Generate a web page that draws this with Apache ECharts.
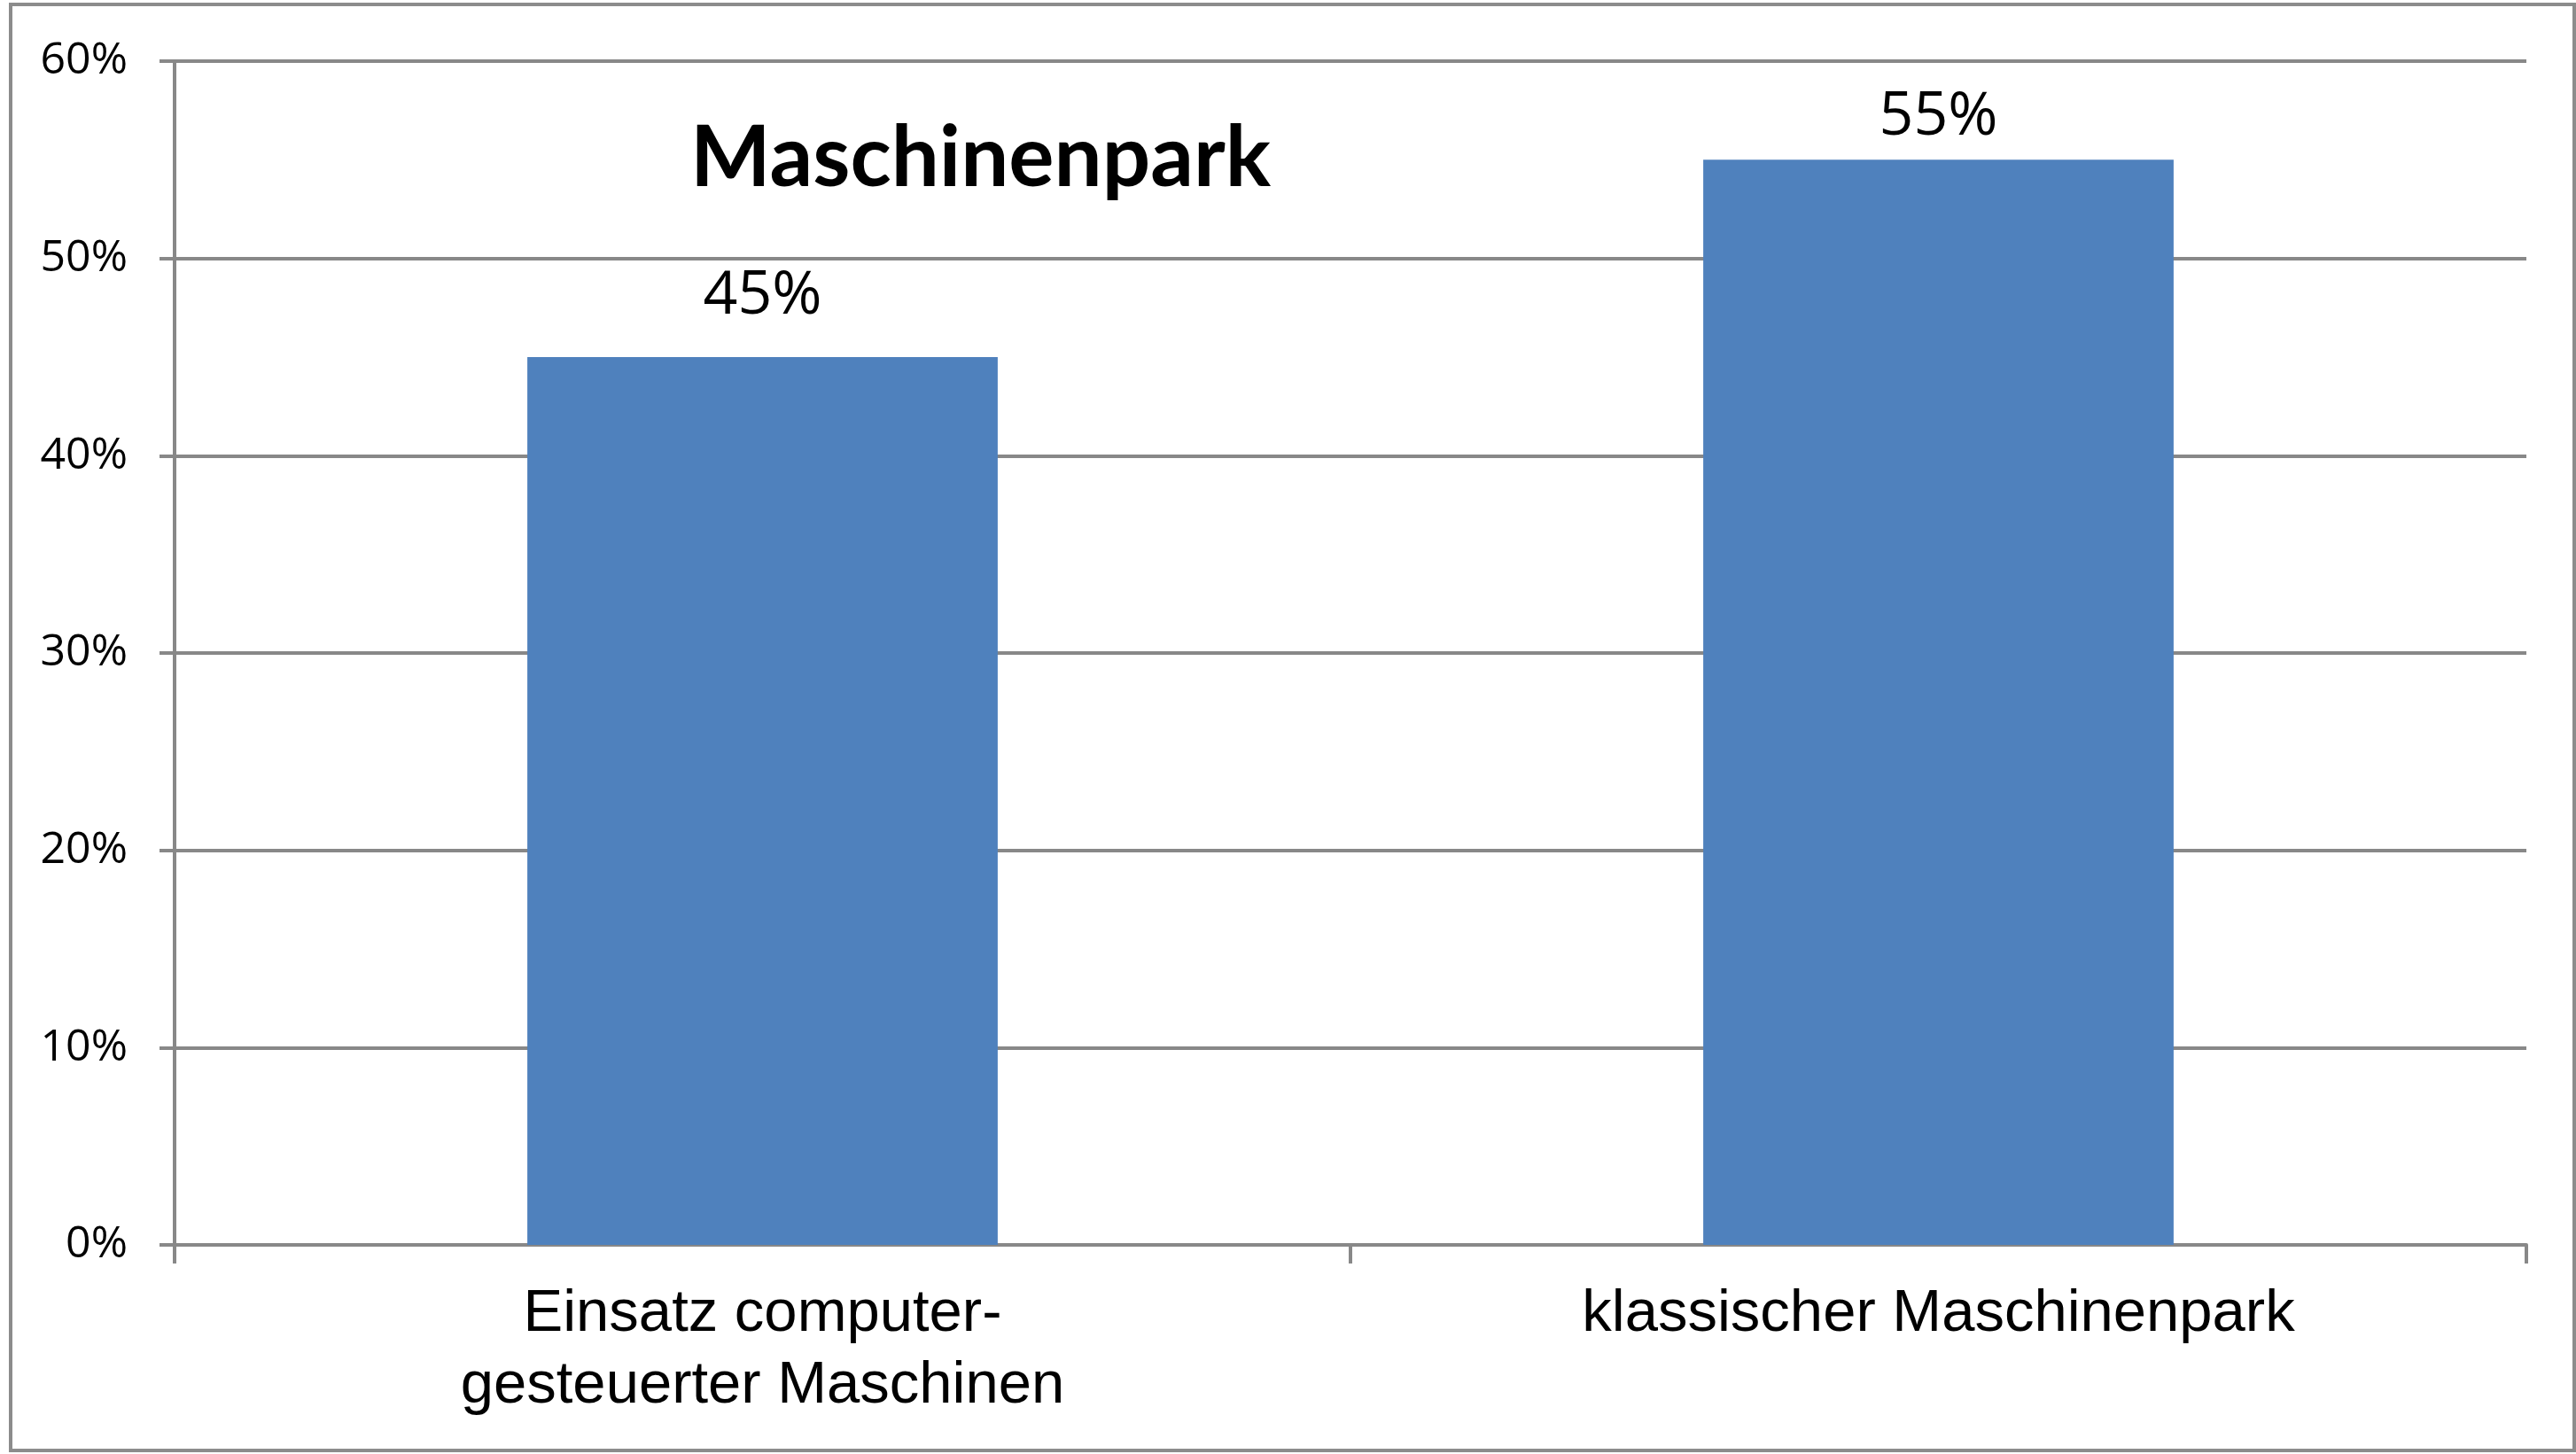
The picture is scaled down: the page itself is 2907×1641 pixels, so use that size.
<!DOCTYPE html>
<html>
<head>
<meta charset="utf-8">
<title>Maschinenpark</title>
<script src="https://cdn.jsdelivr.net/npm/echarts@6/dist/echarts.min.js"></script>
<style>
html, body { margin: 0; padding: 0; background: #fff; }
#chart { width: 2907px; height: 1641px; }
</style>
</head>
<body>
<div id="chart"></div>
<script>
// data
var categories = ['Einsatz computer-\ngesteuerter Maschinen', 'klassischer Maschinenpark'];
var shares = [0.45, 0.55];
var yTicks = [0, 0.1, 0.2, 0.3, 0.4, 0.5, 0.6];

var labelGap = [34, 14]; // Abstand der Beschriftung über dem Balken

var chart = echarts.init(document.getElementById('chart'));

var option = {
  backgroundColor: '#ffffff',
  animation: false,
  title: {
    text: 'Maschinenpark',
    left: 779,
    top: 131,
    padding: 0,
    textStyle: {
      fontFamily: 'Lato',
      fontWeight: 'bold',
      fontSize: 96,
      color: '#000'
    }
  },
  grid: {
    left: 197,
    right: 56,
    top: 69,
    bottom: 236,
    containLabel: false
  },
  xAxis: {
    type: 'category',
    data: categories,
    axisLine: { lineStyle: { color: '#888888', width: 4 } },
    axisTick: { show: true, length: 21, lineStyle: { color: '#888888', width: 4 } },
    axisLabel: {
      margin: 38,
      interval: 0,
      fontFamily: 'Liberation Sans',
      fontSize: 67,
      lineHeight: 81,
      color: '#000'
    }
  },
  yAxis: {
    type: 'value',
    min: yTicks[0],
    max: yTicks[yTicks.length - 1],
    interval: 0.1,
    axisLine: { show: true, lineStyle: { color: '#888888', width: 4 } },
    axisTick: { show: true, length: 17, lineStyle: { color: '#888888', width: 4 } },
    splitLine: { show: true, lineStyle: { color: '#888888', width: 4 } },
    axisLabel: {
      margin: 53,
      fontFamily: 'Open Sans',
      fontSize: 50,
      color: '#000',
      formatter: function (v) { return Math.round(v * 100) + '%'; }
    }
  },
  series: [{
    type: 'bar',
    barWidth: '40%',
    itemStyle: { color: '#4F81BD' },
    label: {
      show: true,
      position: 'top',
      fontFamily: 'Open Sans',
      fontSize: 68,
      color: '#000',
      formatter: function (p) { return Math.round(p.value * 100) + '%'; }
    },
    data: shares.map(function (v, i) {
      return { value: v, label: { distance: labelGap[i] } };
    })
  }],
  graphic: [{
    type: 'rect',
    shape: { x: 12, y: 5, width: 2893, height: 1632 },
    style: { fill: 'none', stroke: '#8c8c8c', lineWidth: 4 },
    silent: true
  }]
};

chart.setOption(option);
</script>
</body>
</html>
